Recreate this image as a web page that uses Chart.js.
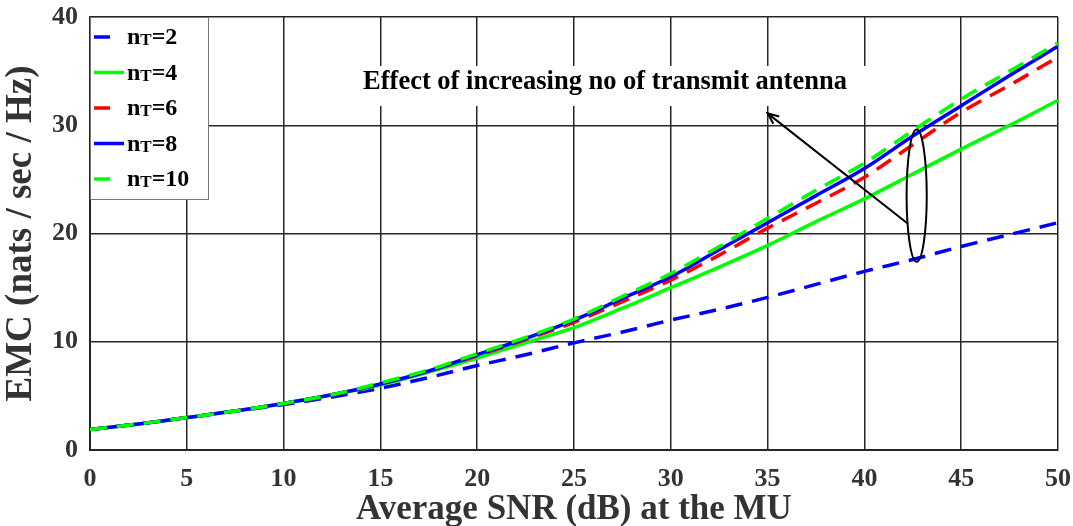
<!DOCTYPE html>
<html>
<head>
<meta charset="utf-8">
<script src="https://cdn.jsdelivr.net/npm/chart.js@4.4.1/dist/chart.umd.min.js"></script>
<style>
  html, body { margin: 0; padding: 0; background: #fff; }
  #wrap { width: 1073px; height: 526px; position: relative; }
</style>
</head>
<body>
<div id="wrap"><canvas id="emcChart"></canvas></div>
<script>
// x values: average SNR (dB)
const snr = [0, 2.5, 5, 7.5, 10, 12.5, 15, 17.5, 20, 22.5, 25, 27.5, 30, 32.5, 35, 37.5, 40, 42.5, 45, 47.5, 50];

// EMC (nats/sec/Hz) per number of transmit antennas
const emcNt2  = [1.9, 2.4, 3.0, 3.6, 4.2, 4.9, 5.7, 6.7, 7.8, 8.8, 9.9, 10.9, 12.0, 13.0, 14.1, 15.3, 16.5, 17.6, 18.8, 19.9, 21.0];
const emcNt4  = [1.9, 2.4, 3.0, 3.6, 4.3, 5.1, 6.0, 7.2, 8.5, 9.9, 11.3, 13.1, 15.0, 16.9, 18.9, 21.1, 23.2, 25.5, 27.8, 30.0, 32.3];
const emcNt6  = [1.9, 2.4, 3.0, 3.6, 4.3, 5.1, 6.1, 7.3, 8.7, 10.2, 11.8, 13.7, 15.7, 18.0, 20.5, 22.8, 25.2, 28.2, 31.2, 33.7, 36.3];
const emcNt8  = [1.9, 2.4, 3.0, 3.6, 4.3, 5.1, 6.1, 7.3, 8.8, 10.3, 12.0, 14.0, 16.0, 18.5, 21.0, 23.5, 26.0, 29.0, 31.8, 34.6, 37.3];
const emcNt10 = [1.9, 2.4, 3.0, 3.6, 4.3, 5.1, 6.2, 7.4, 8.9, 10.4, 12.1, 14.2, 16.3, 18.8, 21.4, 24.0, 26.5, 29.5, 32.4, 35.0, 37.6];

const antennaCounts = ['2', '4', '6', '8', '10'];
const xTicks = [0, 5, 10, 15, 20, 25, 30, 35, 40, 45, 50];
const yTicks = [0, 10, 20, 30, 40];

// annotation, in data units
const noteText = 'Effect of increasing no of transmit antenna';
const notePos = { x: 26.6, y: 34.0 };
const ellipsePos = { x: 42.7, y: 23.5, rx: 0.52, ry: 6.1 };
const arrowFrom = { x: 42.25, y: 20.9 };
const arrowTo = { x: 35.0, y: 31.1 };

const SERIF = "'Liberation Serif', 'Times New Roman', serif";
const BLUE = '#0000ff', GREEN = '#00ff00', RED = '#ff0000';
const DASH = [17, 10];

const seriesStyles = [
  { color: BLUE,  dash: DASH },
  { color: GREEN, dash: [] },
  { color: RED,   dash: DASH },
  { color: BLUE,  dash: [] },
  { color: GREEN, dash: DASH }
];
const seriesData = [emcNt2, emcNt4, emcNt6, emcNt8, emcNt10];

const datasets = seriesData.map((vals, i) => ({
  label: 'nT=' + antennaCounts[i],
  data: snr.map((x, j) => ({ x: x, y: vals[j] })),
  borderColor: seriesStyles[i].color,
  borderDash: seriesStyles[i].dash,
  borderWidth: 3.5,
  pointRadius: 0,
  fill: false,
  cubicInterpolationMode: 'monotone',
  order: seriesData.length - i   // later series drawn on top
}));

// legend box in the top-left corner of the plot
const legendPlugin = {
  id: 'boxLegend',
  afterDraw(chart) {
    const ctx = chart.ctx;
    const area = chart.chartArea;
    const x0 = area.left, y0 = area.top;
    const w = 118, h = 182;
    ctx.save();
    ctx.fillStyle = '#fff';
    ctx.fillRect(x0, y0, w, h);
    ctx.strokeStyle = '#777';
    ctx.lineWidth = 1;
    ctx.strokeRect(x0 + 0.5, y0 + 0.5, w, h);
    seriesStyles.forEach((s, i) => {
      const cy = y0 + 20 + i * 35.5;
      ctx.strokeStyle = s.color;
      ctx.lineWidth = 3.5;
      ctx.beginPath();
      ctx.moveTo(x0 + 4, cy);
      ctx.lineTo(x0 + (s.dash.length ? 20 : 34), cy);
      ctx.stroke();
      ctx.fillStyle = '#000';
      ctx.textBaseline = 'alphabetic';
      let tx = x0 + 37;
      const base = cy + 7;
      ctx.font = 'bold 24px ' + SERIF;
      ctx.fillText('n', tx, base);
      tx += ctx.measureText('n').width;
      ctx.font = 'bold 17px ' + SERIF;
      ctx.fillText('T', tx, base + 1);
      tx += ctx.measureText('T').width;
      ctx.font = 'bold 24px ' + SERIF;
      ctx.fillText('=' + antennaCounts[i], tx, base);
    });
    ctx.restore();
  }
};

// text note, arrow and ellipse
const notePlugin = {
  id: 'note',
  afterDatasetsDraw(chart) {
    const ctx = chart.ctx;
    const xs = chart.scales.x, ys = chart.scales.y;
    ctx.save();
    ctx.font = 'bold 26.5px ' + SERIF;
    const tw = ctx.measureText(noteText).width;
    const nx = xs.getPixelForValue(notePos.x), ny = ys.getPixelForValue(notePos.y);
    ctx.fillStyle = '#fff';
    ctx.fillRect(nx - tw / 2 - 20, ny - 16, tw + 40, 40);
    ctx.fillStyle = '#000';
    ctx.textAlign = 'center';
    ctx.textBaseline = 'middle';
    ctx.fillText(noteText, nx, ny);

    // ellipse
    const ex = xs.getPixelForValue(ellipsePos.x), ey = ys.getPixelForValue(ellipsePos.y);
    const rx = xs.getPixelForValue(ellipsePos.x + ellipsePos.rx) - ex;
    const ry = ey - ys.getPixelForValue(ellipsePos.y + ellipsePos.ry);
    ctx.strokeStyle = '#000';
    ctx.lineWidth = 2;
    ctx.beginPath();
    ctx.ellipse(ex, ey, rx, ry, 0, 0, Math.PI * 2);
    ctx.stroke();

    // arrow
    const ax = xs.getPixelForValue(arrowFrom.x), ay = ys.getPixelForValue(arrowFrom.y);
    const bx = xs.getPixelForValue(arrowTo.x), by = ys.getPixelForValue(arrowTo.y);
    ctx.beginPath();
    ctx.moveTo(ax, ay);
    ctx.lineTo(bx, by);
    const ang = Math.atan2(by - ay, bx - ax);
    const hl = 12;
    ctx.moveTo(bx - hl * Math.cos(ang - 0.4), by - hl * Math.sin(ang - 0.4));
    ctx.lineTo(bx, by);
    ctx.lineTo(bx - hl * Math.cos(ang + 0.4), by - hl * Math.sin(ang + 0.4));
    ctx.stroke();
    ctx.restore();
  }
};

const gridColor = '#262626';

new Chart(document.getElementById('emcChart'), {
  type: 'line',
  data: { datasets: datasets },
  plugins: [notePlugin, legendPlugin],
  options: {
    responsive: true,
    maintainAspectRatio: false,
    animation: false,
    layout: { padding: { top: 17, right: 15, left: 0, bottom: 0 } },
    plugins: { legend: { display: false }, tooltip: { enabled: false } },
    scales: {
      x: {
        type: 'linear',
        min: 0, max: 50,
        afterFit(scale) {
          scale.height = 76;
          scale.paddingLeft = 0;
          scale.paddingRight = 0;
        },
        afterBuildTicks(scale) { scale.ticks = xTicks.map(v => ({ value: v })); },
        grid: { color: gridColor, lineWidth: 1.5, drawTicks: false },
        border: { color: gridColor, width: 2 },
        ticks: {
          padding: 14,
          color: '#333',
          font: { family: SERIF, size: 26, weight: 'bold' }
        },
        title: {
          display: true,
          text: 'Average SNR (dB) at the MU',
          color: '#333',
          padding: 0,
          font: { family: SERIF, size: 35, weight: 'bold', lineHeight: 0.9 }
        }
      },
      y: {
        min: 0, max: 40,
        afterFit(scale) {
          scale.width = 90;
          scale.paddingTop = 0;
          scale.paddingBottom = 0;
        },
        afterBuildTicks(scale) { scale.ticks = yTicks.map(v => ({ value: v })); },
        grid: { color: gridColor, lineWidth: 1.5, drawTicks: false },
        border: { color: gridColor, width: 2 },
        ticks: {
          padding: 12,
          color: '#333',
          font: { family: SERIF, size: 26, weight: 'bold' }
        },
        title: {
          display: true,
          text: 'EMC (nats / sec / Hz)',
          color: '#333',
          padding: { top: 2, bottom: 0 },
          font: { family: SERIF, size: 37, weight: 'bold', lineHeight: 1.05 }
        }
      }
    }
  }
});
</script>
</body>
</html>
